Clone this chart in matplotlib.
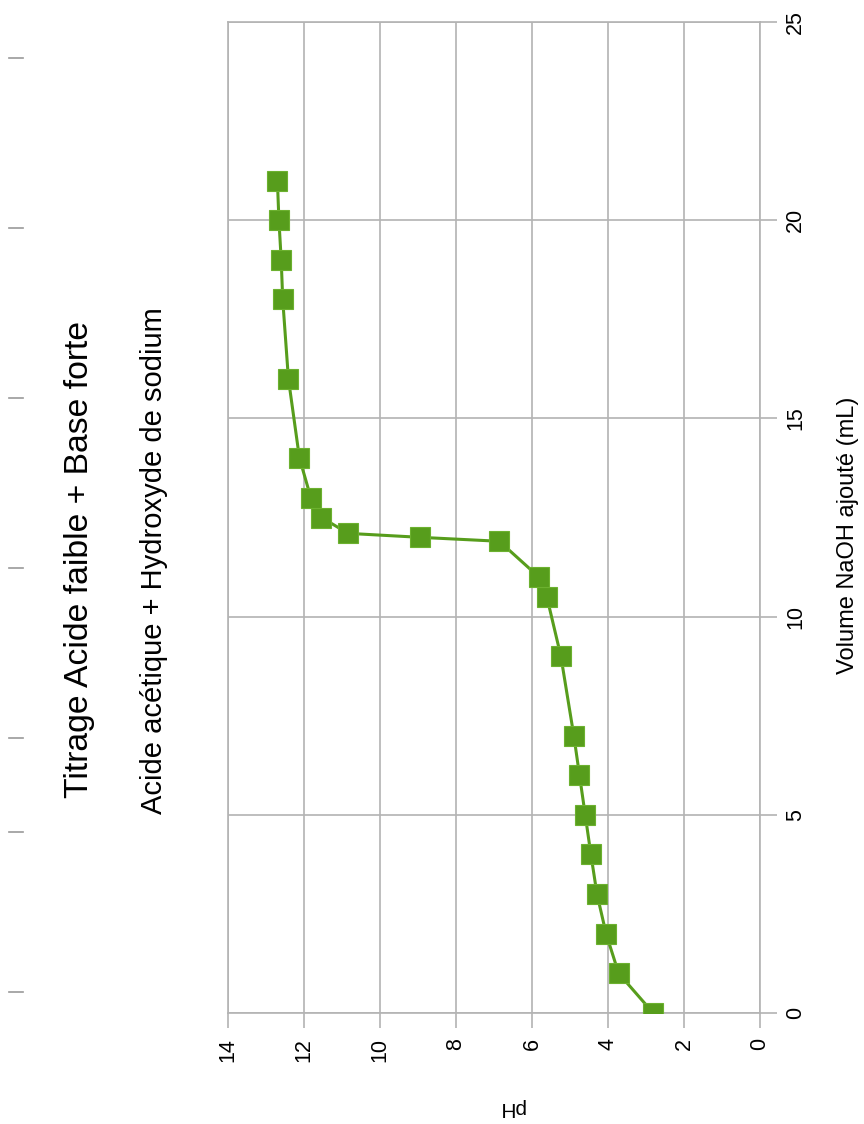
import matplotlib
matplotlib.use("Agg")
import matplotlib.pyplot as plt
from matplotlib.lines import Line2D

plt.rcParams['font.family'] = ['Liberation Sans', 'DejaVu Sans']

# Data
volume_ml = [0, 1, 2, 3, 4, 5, 6, 7, 9, 10.5, 11, 11.9, 12, 12.1, 12.5, 13, 14, 16, 18, 19, 20, 21]
ph_values = [2.81, 3.72, 4.05, 4.29, 4.45, 4.60, 4.75, 4.90, 5.24, 5.61, 5.82, 6.86, 8.95, 10.84,
             11.54, 11.82, 12.12, 12.41, 12.56, 12.60, 12.66, 12.70]
ph_ticks = [0, 2, 4, 6, 8, 10, 12, 14]
vol_ticks = [0, 5, 10, 15, 20, 25]

title = "Titrage Acide faible + Base forte"
subtitle = "Acide acétique + Hydroxyde de sodium"
xlabel = "pH"
ylabel = "Volume NaOH ajouté (mL)"

W, H = 864, 1124
fig = plt.figure(figsize=(W / 100, H / 100), dpi=100)
fig.patch.set_facecolor('white')

left, right, top, bottom = 228, 760, 22, 1013
ax = fig.add_axes([left / W, 1 - bottom / H, (right - left) / W, (bottom - top) / H])

green = '#579d1c'
grid_c = '#b3b3b3'

ax.plot(ph_values, volume_ml, color=green, lw=2.2, marker='s', markersize=14,
        markerfacecolor=green, markeredgecolor='#6cb12f', markeredgewidth=0.8, zorder=3)

ax.set_xlim(14, 0)
ax.set_ylim(0, 25)
ax.set_xticks(ph_ticks)
ax.set_yticks(vol_ticks)
ax.grid(True, color=grid_c, lw=1.2)
ax.set_axisbelow(True)
for s in ax.spines.values():
    s.set_color(grid_c)
    s.set_linewidth(1.2)

ax.yaxis.tick_right()
ax.tick_params(axis='x', direction='out', length=11, width=1.2, color=grid_c,
               labelrotation=90, labelsize=15.5, pad=7)
ax.tick_params(axis='y', direction='out', length=12, width=1.2, color=grid_c,
               labelrotation=90, labelsize=15.5, pad=6, left=False, right=True,
               labelleft=False, labelright=True)
for lab in ax.get_yticklabels():
    lab.set_va('center')
    lab.set_ha('left')

def fx(px):
    return px / W

def fy(py):
    return 1 - py / H

fig.text(fx(80), fy(560), title, rotation=90, fontsize=24.3, ha='center', va='center')
fig.text(fx(154), fy(561), subtitle, rotation=90, fontsize=21, ha='center', va='center')
fig.text(fx(511), fy(1107), xlabel, rotation=180, fontsize=15, ha='center', va='center')
fig.text(fx(848), fy(535), ylabel, rotation=90, fontsize=17, ha='center', va='center')

# small marks at the far left edge
mark_y = [58, 228, 398, 568, 738, 832, 992]
for my in mark_y:
    fig.add_artist(Line2D([fx(9), fx(23)], [fy(my), fy(my)], color='#999999', lw=1.2))

fig.savefig('out.png', dpi=100)
